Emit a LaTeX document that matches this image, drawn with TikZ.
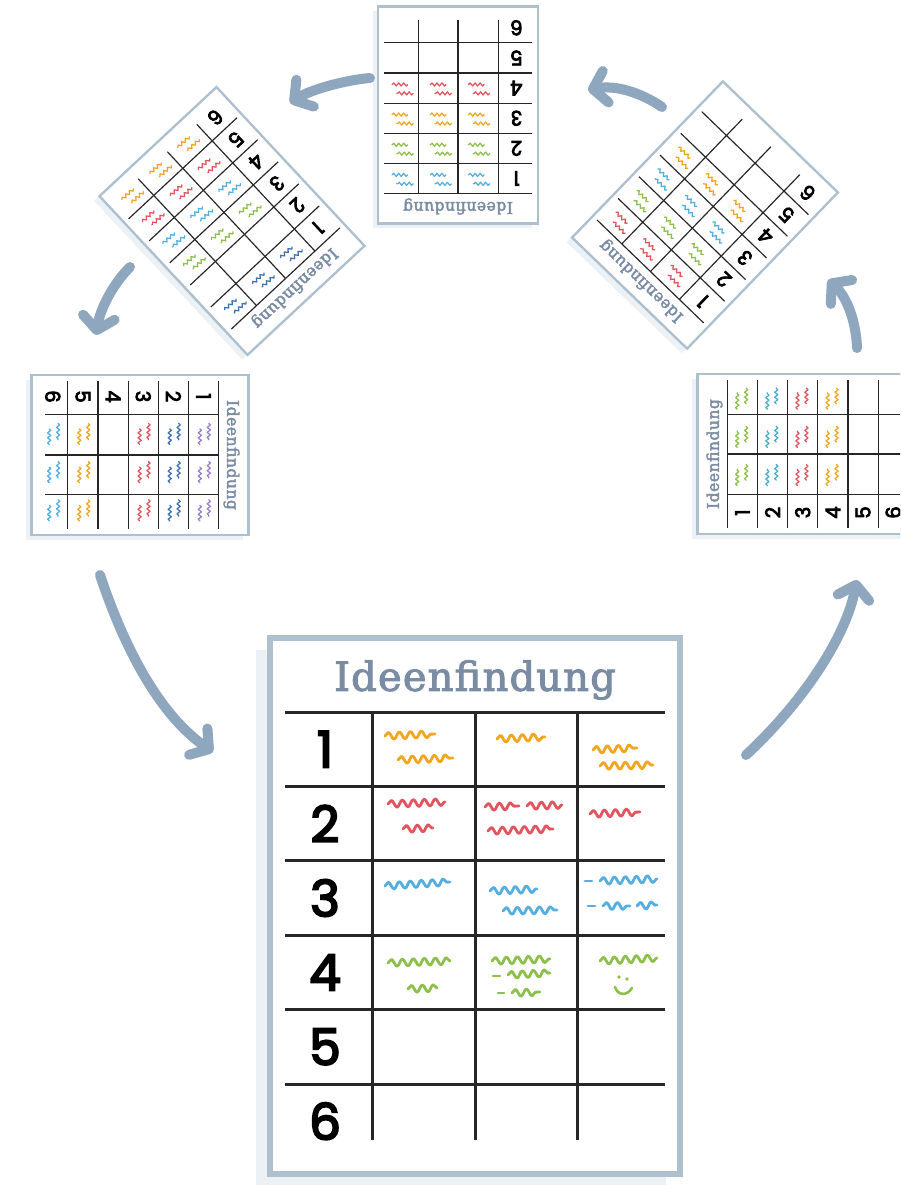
\documentclass[tikz,border=0pt]{standalone}
\usepackage{fontspec}
\usetikzlibrary{arrows.meta,decorations.pathmorphing}

\newfontfamily\titlefont{DejaVu Serif}[LetterSpace=3, FakeBold=2.5]
\newfontfamily\numfont{Poppins}[FakeBold=4]

\definecolor{frameblue}{HTML}{AEBFCE}
\definecolor{sheetshade}{HTML}{ECF1F5}
\definecolor{titleblue}{HTML}{7A8CA3}
\definecolor{gridblack}{HTML}{262626}
\definecolor{arrowblue}{HTML}{8EA6BE}
\definecolor{scrorange}{HTML}{F2A51E}
\definecolor{scrred}{HTML}{E2545E}
\definecolor{scrblue}{HTML}{55AEE0}
\definecolor{scrgreen}{HTML}{8DC04A}
\definecolor{scrpurple}{HTML}{9A80C8}
\definecolor{scrdark}{HTML}{3F72B0}
\definecolor{scrteal}{HTML}{47AFC9}

% line scale of the current sheet and of its ink
\def\sk{1}
\def\ink{1}

\tikzset{
  gridline/.style={draw=gridblack, line width=3pt*\sk},
  sheettitle/.style={text=titleblue, font=\titlefont\fontsize{40}{40}\selectfont, transform shape},
  rownum/.style={text=black, font=\numfont\fontsize{50}{50}\selectfont, transform shape},
  scrib/.style={draw=#1, line width=2.8pt*\ink, line cap=round, line join=round,
    decorate, decoration={snake, amplitude=3.5pt*\ink, segment length=11pt*\ink}},
  scribdash/.style={draw=#1, line width=2.8pt*\ink, line cap=round},
  cycle arrow/.style={draw=arrowblue, line width=10pt, line cap=round,
    -{Straight Barb[length=13pt, width=32pt, round]}},
}

% one sheet: centre x, centre y, angle, xscale, yscale, ink
\newcommand{\papersheet}[6]{%
  \begin{scope}[shift={(#1-14*#4,#2+12*#4)}, rotate=#3, xscale=#4, yscale=#5]
    \fill[sheetshade] (-205,-268) rectangle (205,268);
  \end{scope}
  \begin{scope}[shift={(#1,#2)}, rotate=#3, xscale=#4, yscale=#5]
    \def\sk{#4}
    \draw[frameblue, fill=white, line width=6pt*\sk] (-205,-268) rectangle (205,268);
    \node[sheettitle] at (0,-226) {Ideenfindung};
    \foreach \r in {0,...,5}
      \draw[gridline] (-190,-194+74.4*\r) -- (190,-194+74.4*\r);
    \foreach \c in {-103,0,102}
      \draw[gridline] (\c,-194) -- (\c,234);
    \foreach \r in {1,...,6}
      \node[rownum] at (-150,-231.2+74.4*\r) {\r};
    #6
  \end{scope}}

% short strokes in cell (column, row)
\newcommand{\inkcell}[3]{%
  \pgfmathsetmacro\ix{-51+98*(#1-1)}
  \pgfmathsetmacro\iy{-194+74.4*(#2-0.5)}
  \draw[scrib=#3] (\ix-30,\iy-13) -- ++(42,0);
  \draw[scrib=#3] (\ix-16,\iy+9) -- ++(40,0);}

\begin{document}
\begin{tikzpicture}[x=1pt, y=-1pt]
\clip (0,0) rectangle (900,1185);

% big sheet
\papersheet{475}{906}{0}{1}{1}{%
  \draw[scrib=scrorange] (-90,-170) -- (-40,-172);
  \draw[scrib=scrorange] (-77,-146) -- (-22,-148);
  \draw[scrib=scrorange] (22,-167) -- (70,-169);
  \draw[scrib=scrorange] (118,-156) -- (162,-158);
  \draw[scrib=scrorange] (125,-140) -- (178,-141);
  \draw[scrib=scrred] (-87,-102) -- (-30,-104);
  \draw[scrib=scrred] (-72,-77) -- (-42,-78);
  \draw[scrib=scrred] (10,-99) -- (44,-100);
  \draw[scrib=scrred] (52,-100) -- (87,-101);
  \draw[scrib=scrred] (13,-75) -- (78,-77);
  \draw[scrib=scrred] (115,-92) -- (165,-94);
  \draw[scrib=scrblue] (-90,-20) -- (-25,-24);
  \draw[scrib=scrblue] (15,-15) -- (62,-17);
  \draw[scrib=scrblue] (28,5) -- (82,4);
  \draw[scribdash=scrblue] (110,-25) -- (117,-25);
  \draw[scrib=scrblue] (125,-25) -- (182,-27);
  \draw[scribdash=scrblue] (113,0) -- (120,0);
  \draw[scrib=scrblue] (128,0) -- (155,0);
  \draw[scrib=scrblue] (162,0) -- (182,-1);
  \draw[scrib=scrgreen] (-87,57) -- (-25,55);
  \draw[scrib=scrgreen] (-67,83) -- (-38,82);
  \draw[scrib=scrgreen] (17,55) -- (75,53);
  \draw[scribdash=scrgreen] (18,70) -- (25,70);
  \draw[scrib=scrgreen] (33,69) -- (75,67);
  \draw[scribdash=scrgreen] (23,87) -- (29,87);
  \draw[scrib=scrgreen] (37,87) -- (65,86);
  \draw[scrib=scrgreen] (125,55) -- (182,52);
  \fill[scrgreen] (144,71) circle (1.8) (152,73) circle (1.8);
  \draw[scrgreen, line width=2.6pt, line cap=round] (140,81) .. controls (143,90) and (152,90) .. (157,82);
}

% small sheets round the cycle
\papersheet{806}{454}{90}{.39}{.405}{%
  \def\ink{.45}
  \foreach \row/\hue in {1/scrgreen, 2/scrteal, 3/scrred, 4/scrorange}
    \foreach \col in {1,2,3} \inkcell{\col}{\row}{\hue};
}
\papersheet{705}{215}{136}{.39}{.405}{%
  \def\ink{.45}
  \foreach \row/\hue in {1/scrred, 2/scrgreen, 3/scrblue, 4/scrorange}
    \foreach \col in {1,2,3} \inkcell{\col}{\row}{\hue};
}
\papersheet{458}{115}{180}{.39}{.405}{%
  \def\ink{.45}
  \foreach \row/\hue in {1/scrblue, 2/scrgreen, 3/scrorange, 4/scrred}
    \foreach \col in {1,2,3} \inkcell{\col}{\row}{\hue};
}
\papersheet{232}{221}{-137}{.39}{.405}{%
  \def\ink{.45}
  \foreach \row/\hue in {1/scrdark, 3/scrgreen, 4/scrblue, 5/scrred, 6/scrorange}
    \foreach \col in {1,2,3} \inkcell{\col}{\row}{\hue};
}
\papersheet{140}{455}{-90}{.39}{.405}{%
  \def\ink{.45}
  \foreach \row/\hue in {1/scrpurple, 2/scrdark, 3/scrred, 5/scrorange, 6/scrblue}
    \foreach \col in {1,2,3} \inkcell{\col}{\row}{\hue};
}

% arrows between the sheets
\coordinate (big out) at (746,755);
\coordinate (right in) at (857,580);
\coordinate (right out) at (857,348);
\coordinate (upright in) at (828,280);
\coordinate (upright out) at (662,107);
\coordinate (top in) at (588,90);
\coordinate (top out) at (370,78);
\coordinate (upleft in) at (290,103);
\coordinate (upleft out) at (130,267);
\coordinate (left in) at (96,335);
\coordinate (left out) at (100,575);
\coordinate (big in) at (213,752);

\draw[cycle arrow] (big out) .. controls (800,705) and (845,640) .. (right in);
\draw[cycle arrow] (right out) .. controls (856,320) and (846,296) .. (upright in);
\draw[cycle arrow] (upright out) .. controls (640,92) and (615,85) .. (top in);
\draw[cycle arrow] (top out) .. controls (345,80) and (310,90) .. (upleft in);
\draw[cycle arrow] (upleft out) .. controls (112,285) and (100,310) .. (left in);
\draw[cycle arrow] (left out) .. controls (125,650) and (160,715) .. (big in);
\end{tikzpicture}
\end{document}
